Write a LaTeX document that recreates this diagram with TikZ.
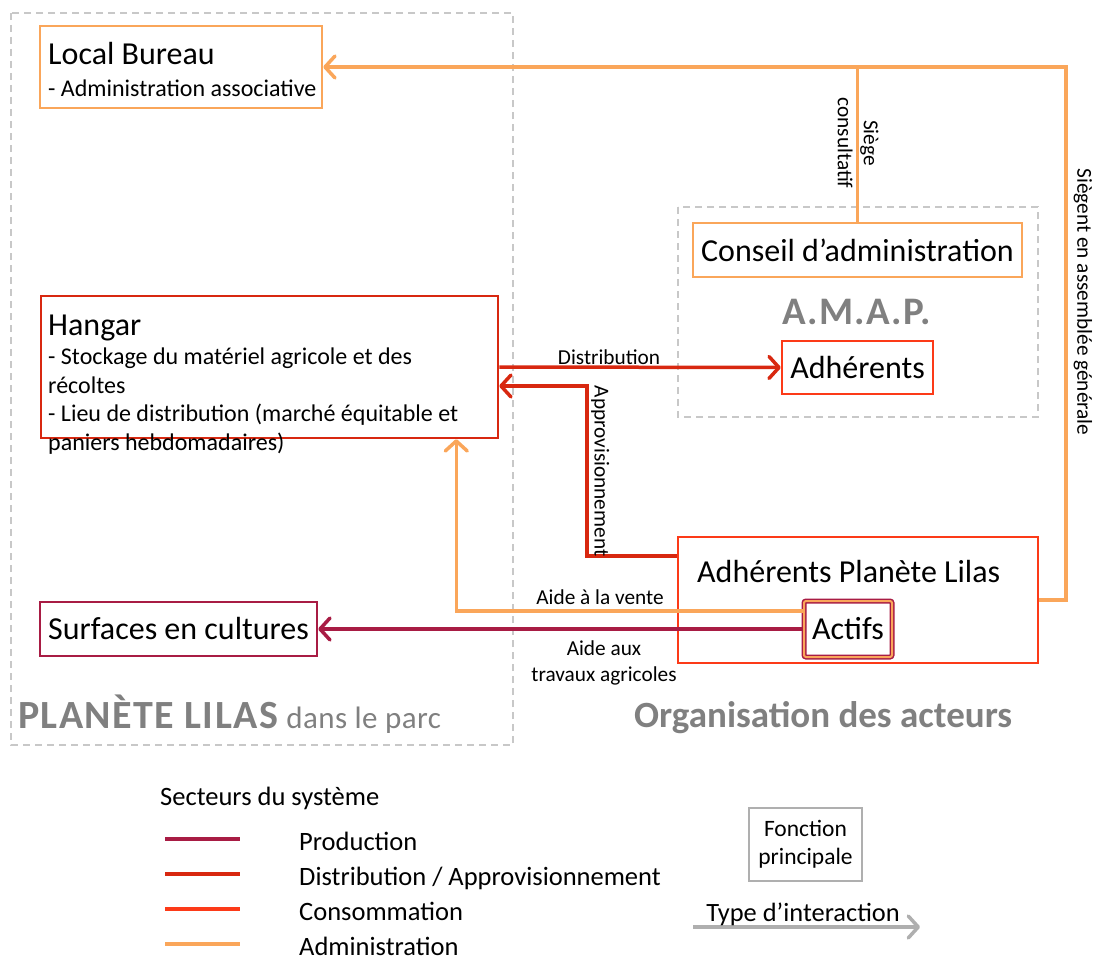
\documentclass[tikz,border=0pt]{standalone}
\usepackage{fontspec}
\setmainfont{Carlito}
\usetikzlibrary{arrows.meta}

\definecolor{prodcol}{RGB}{168,28,68}
\definecolor{distcol}{RGB}{216,40,16}
\definecolor{conscol}{RGB}{252,58,24}
\definecolor{admcol}{RGB}{250,166,90}
\definecolor{titlegray}{RGB}{128,128,128}
\definecolor{framegray}{RGB}{200,200,200}
\definecolor{leggray}{RGB}{175,175,175}

\begin{document}
\begin{tikzpicture}[x=1pt,y=-1pt,
  zonebox/.style={draw=framegray, line width=1.5pt, dash pattern=on 7pt off 5pt},
  fnbox/.style={draw, line width=2.5pt, fill=white, inner sep=0pt, font=\fontsize{32}{38}\selectfont},
  link/.style={line width=3.5pt},
  arrowto/.style={-{Straight Barb[length=10pt,width=22pt,round]}},
  lbl/.style={text=black, font=\fontsize{21.3}{26}\selectfont, inner sep=1pt},
  bigtxt/.style={anchor=base west, font=\fontsize{32}{38}\selectfont, inner sep=0pt},
  smalltxt/.style={anchor=base west, align=left, font=\fontsize{24}{28.5}\selectfont, inner sep=0pt},
  ztitle/.style={anchor=base west, text=titlegray, inner sep=0pt, font=\fontsize{37}{44}\selectfont\bfseries},
  legtxt/.style={anchor=base west, font=\fontsize{26.5}{31}\selectfont, inner sep=0pt}]
\useasboundingbox (0,0) rectangle (1093,958);

% zones
\draw[zonebox] (11,13) rectangle (513,745);
\draw[zonebox] (678,207) rectangle (1038,417);

% boxes
\node[fnbox, draw=admcol, minimum width=282, minimum height=82] (bureau) at (181,67) {};
\node[bigtxt] (bureautitle) at (48,65) {Local Bureau};
\node[smalltxt] (bureautext) at (48,96) {- Administration associative};

\node[fnbox, draw=distcol, minimum width=457, minimum height=142] (hangar) at (269.5,367) {};
\node[bigtxt] (hangartitle) at (48,335) {Hangar};
\node[smalltxt] (hangartext) at (48,450) {- Stockage du matériel agricole et des\\récoltes\\- Lieu de distribution (marché équitable et\\paniers hebdomadaires)};

\node[fnbox, draw=prodcol, minimum width=277, minimum height=54] (surfaces) at (178.5,629) {Surfaces en cultures};

\node[fnbox, draw=admcol, minimum width=329, minimum height=54] (conseil) at (857.5,250) {Conseil d’administration};
\node[anchor=base, text=titlegray, inner sep=0pt, font=\fontsize{39}{46}\selectfont\bfseries\addfontfeature{LetterSpace=3}] (amap) at (857,324) {A.M.A.P.};
\node[fnbox, draw=conscol, minimum width=151, minimum height=53] (adh) at (857.5,367.5) {Adhérents};

\node[fnbox, draw=conscol, minimum width=360, minimum height=126] (planete) at (858,600) {};
\node[bigtxt] (planetetitle) at (697,582) {Adhérents Planète Lilas};
\node[fnbox, draw=prodcol, line width=1.5pt, double=admcol, double distance=2pt, rounded corners=2pt,
  minimum width=88, minimum height=56] (actifs) at (848,629) {Actifs};

% interactions
\coordinate (admcorner) at (1066,67);
\draw[link, admcol, arrowto] (planete.east) -| (admcorner) -- (bureau.east);
\draw[link, admcol] (conseil.north) -- (conseil.north |- bureau.east);
\node[lbl, rotate=-90, align=center] (siege) at (858,143) {Siège\\consultatif};
\node[lbl, rotate=-90] (siegent) at (1083,302) {Siègent en assemblée générale};

\draw[link, distcol, arrowto] (hangar.east) -- (adh.west)
  node[lbl, above, pos=0.39] (distlbl) {Distribution};
\draw[link, distcol, arrowto] ([yshift=44pt]planete.west) -- ++(-90,0) |- ([yshift=-19pt]hangar.east);
\node[lbl, rotate=-90, anchor=south] (approlbl) at (590,471) {Approvisionnement};

\draw[link, admcol, arrowto] ([yshift=18pt]actifs.west) -| ([xshift=-43pt]hangar.south east);
\node[lbl] (ventelbl) at (600,597) {Aide à la vente};
\draw[link, prodcol, arrowto] (actifs.west) -- (surfaces.east);
\node[lbl, align=center] (travlbl) at (604,663) {Aide aux\\travaux agricoles};

% zone titles
\node[ztitle] (lilastitle) at (18,728) {{\fontsize{40}{46}\selectfont\addfontfeature{LetterSpace=3.5}PLANÈTE LILAS} {\mdseries\fontsize{31}{36}\selectfont\addfontfeature{LetterSpace=1.5}dans le parc}};
\node[ztitle] (orgatitle) at (634,727) {Organisation des acteurs};

% legend
\node[legtxt] (legtitle) at (160,805) {Secteurs du système};
\draw[line width=4pt, prodcol] (165,839) -- (240,839);
\node[legtxt] (legprod) at (299,850) {Production};
\draw[line width=4pt, distcol] (165,874) -- (240,874);
\node[legtxt] (legdist) at (299,885) {Distribution / Approvisionnement};
\draw[line width=4pt, conscol] (165,909) -- (240,909);
\node[legtxt] (legcons) at (299,920) {Consommation};
\draw[line width=4pt, admcol] (165,944) -- (240,944);
\node[legtxt] (legadm) at (299,955) {Administration};

\node[draw=leggray, line width=2pt, minimum width=113, minimum height=73, align=center,
  font=\fontsize{23.5}{28}\selectfont] (legfn) at (805.5,844.5) {Fonction\\principale};
\coordinate (legstart) at (693,927);
\coordinate (legend) at (920,927);
\draw[link, leggray, arrowto] (legstart) -- (legend);
\node[anchor=base, inner sep=0pt, font=\fontsize{26.4}{31}\selectfont] (legint) at (803,921) {Type d’interaction};
\end{tikzpicture}
\end{document}
